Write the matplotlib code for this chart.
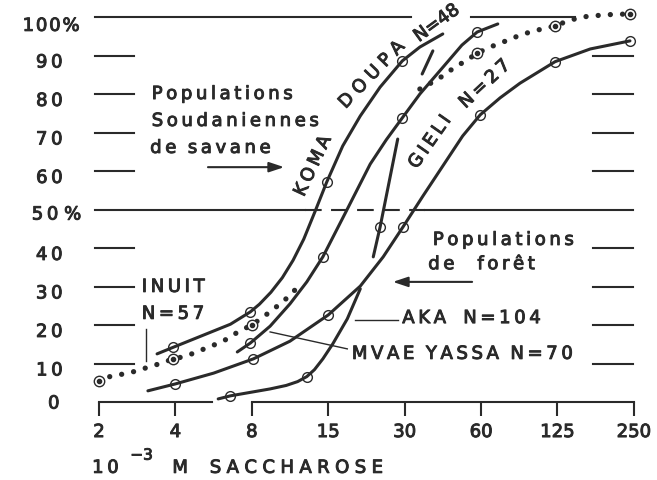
import numpy as np
import matplotlib.pyplot as plt
import matplotlib.patheffects as pe

# sucrose concentration (10^-3 M), one step per doubling on the x axis
conc_labels = ['2', '4', '8', '15', '30', '60', '125', '250']
conc_pos = np.arange(len(conc_labels))
pct_ticks = [0, 10, 20, 30, 40, 50, 60, 70, 80, 90, 100]

# KOMA DOUPA N=48 (curve, x in doubling steps from 2 mM)
koma_x = [0.76, 0.97, 1.47, 1.72, 1.98, 2.1, 2.25, 2.4, 2.54, 2.68, 2.83, 2.98, 3.19, 3.42, 3.68, 3.97, 4.2, 4.5]
koma_y = [12.5, 14.2, 18.2, 20.2, 23.4, 25.4, 28.5, 32.3, 36.8, 42.3, 49.6, 57.1, 66.5, 74.3, 81.8, 88.6, 92.2, 95.6]
koma_cx = [0.97, 1.98, 2.98, 3.97]
koma_cy = [14.2, 23.4, 57.1, 88.6]

# MVAE YASSA N=70
mvae_x = [1.81, 1.98, 2.24, 2.5, 2.72, 2.93, 3.25, 3.55, 3.76, 3.97, 4.2, 4.56, 4.75, 4.95, 5.22]
mvae_y = [13.0, 15.3, 19.7, 25.5, 31.2, 37.7, 50.1, 61.8, 68.1, 73.8, 80.0, 88.3, 92.7, 96.1, 98.2]
mvae_cx = [1.98, 2.93, 3.97, 4.95]
mvae_cy = [15.3, 37.7, 73.8, 96.1]

# GIELI N=27
gieli_x = [0.64, 1.0, 1.5, 2.02, 2.5, 3.0, 3.42, 3.72, 3.98, 4.24, 4.56, 4.76, 4.99, 5.25, 5.51, 5.97, 6.43, 6.95]
gieli_y = [2.9, 4.7, 7.5, 11.2, 15.8, 22.6, 30.1, 37.7, 45.5, 53.5, 63.1, 69.1, 74.6, 79.0, 82.8, 88.4, 91.7, 93.8]
gieli_cx = [1.0, 2.02, 3.0, 3.98, 4.99, 5.97, 6.95]
gieli_cy = [4.7, 11.2, 22.6, 45.5, 74.6, 88.4, 93.8]

# AKA N=104 (broken where it crosses the other curves)
aka_x = [1.56, 1.72, 2.24, 2.45, 2.6, 2.72, 2.82, 2.93, 3.06, 3.25, 3.42, np.nan,
         3.59, 3.68, 3.91, np.nan, 4.23, 4.37]
aka_y = [0.8, 1.6, 3.4, 4.3, 5.3, 6.6, 8.4, 11.2, 15.1, 21.6, 29.4, np.nan,
         37.7, 45.5, 68.3, np.nan, 85.2, 91.2]
aka_cx = [1.72, 2.72, 3.68]
aka_cy = [1.6, 6.6, 45.5]

# INUIT N=57 (dotted, hidden where it runs along the MVAE curve)
inuit_x = [-0.01, 0.17, 0.33, 0.5, 0.65, 0.82, 0.97, 1.14, 1.3, 1.47, 1.65, 1.82, 2.0,
           2.15, 2.29, 2.46, 2.59, np.nan,
           4.2, 4.37, 4.5, 4.66, 4.8, 4.95, 5.12, 5.29, 5.45, 5.64, 5.8, 5.97,
           6.14, 6.32, 6.47, 6.65, 6.79, 6.95]
inuit_y = [5.5, 6.8, 7.3, 8.1, 9.1, 10.1, 11.2, 11.9, 13.2, 14.5, 16.1, 18.2, 20.0,
           22.1, 24.2, 27.0, 29.6, np.nan,
           81.3, 83.1, 84.7, 87.0, 88.6, 90.6, 92.2, 93.5, 94.8, 96.1, 96.9, 97.7,
           99.0, 100.0, 100.3, 100.6, 100.7, 100.8]
inuit_cx = [0, 0.97, 2.0, 4.95, 5.97, 6.95]
inuit_cy = [5.5, 11.2, 20.0, 90.6, 97.7, 100.8]

ink = '#2a2a2a'
fs = 13
bold = [pe.withStroke(linewidth=0.7, foreground=ink)]


def spaced(s, gap='\u2009'):
    # the original lettering is widely spaced
    return gap.join(s)


def label(x, y, s, **kw):
    kw.setdefault('ha', 'left')
    kw.setdefault('va', 'center')
    kw.setdefault('fontsize', fs)
    ax.text(x, y, s, color=ink, path_effects=bold, **kw)


fig = plt.figure(figsize=(6.57, 4.81), dpi=100)
ax = fig.add_axes([0, 0, 1, 1])
ax.set_xlim(-1.296, 7.304)
ax.set_ylim(-20.26, 104.68)
ax.axis('off')

# guide lines at 100% and 50%
ax.plot([-0.05, 4.08], [100, 100], color=ink, lw=1.5)
ax.plot([4.87, 6.23], [100, 100], color=ink, lw=1.5)
ax.plot([-0.05, 2.7], [50, 50], color=ink, lw=1.5)
ax.plot([2.7, 4.27], [50, 50], color=ink, lw=1.5, ls=(0, (8, 4.5)))
ax.plot([4.27, 6.99], [50, 50], color=ink, lw=1.5)

# short dashes on both sides
for v in pct_ticks:
    if v in (0, 50, 100):
        continue
    ax.plot([-0.05, 0.46], [v, v], color=ink, lw=1.5)
    ax.plot([6.47, 6.99], [v, v], color=ink, lw=1.5)

# y labels
for v in pct_ticks:
    if v == 100:
        label(-1.0, v - 2.3, spaced('100%', '\u200a'))
    elif v == 50:
        label(-0.88, v - 1.3, spaced('50') + ' %')
    elif v == 0:
        label(-0.52, v - 0.4, '0', ha='right')
    else:
        label(-0.48, v - 1.8, spaced(str(v)), ha='right')

# x axis, broken where the AKA curve starts
ax.plot([0, 1.48], [0, 0], color=ink, lw=1.5)
ax.plot([2, 7], [0, 0], color=ink, lw=1.5)
ax.vlines(conc_pos, -3.6, 0, color=ink, lw=1.5)
for p, lab in zip(conc_pos, conc_labels):
    label(p, -7.8, lab, ha='center')

label(-0.09, -17.1, spaced('10'))
label(0.41, -13.8, '\u2212' + '3', fontsize=11)
label(0.96, -17.1, 'M')
label(1.45, -17.1, spaced('SACCHAROSE', '\u2009\u200a'))

# curves
for cx, cy in [(koma_x, koma_y), (mvae_x, mvae_y), (gieli_x, gieli_y), (aka_x, aka_y)]:
    ax.plot(cx, cy, color=ink, lw=2.2, solid_capstyle='round', solid_joinstyle='round')
for cx, cy in [(koma_cx, koma_cy), (mvae_cx, mvae_cy), (gieli_cx, gieli_cy), (aka_cx, aka_cy)]:
    ax.plot(cx, cy, 'o', ms=7, mfc='none', mec=ink, mew=1.0)

ax.plot(inuit_x, inuit_y, color=ink, lw=3.8, ls=(0, (0.01, 2.3)), dash_capstyle='round')
ax.plot(inuit_cx, inuit_cy, 'o', ms=7.5, mfc='white', mec=ink, mew=1.0)
ax.plot(inuit_cx, inuit_cy, 'o', ms=3, color=ink)

# group captions and arrows
label(0.69, 80.0, spaced('Populations'))
label(0.69, 73.0, spaced('Soudaniennes'))
label(0.67, 66.0, spaced('de') + '  ' + spaced('savane'))
ax.annotate('', xy=(2.46, 61.0), xytext=(1.39, 61.0),
            arrowprops=dict(arrowstyle='-|>,head_length=0.9,head_width=0.3', color=ink, lw=1.5))

label(4.37, 42.1, spaced('Populations'))
label(4.31, 35.8, spaced('de') + '    ' + spaced('forêt'))
ax.annotate('', xy=(3.81, 31.2), xytext=(4.92, 31.2),
            arrowprops=dict(arrowstyle='-|>,head_length=0.9,head_width=0.3', color=ink, lw=1.5))

# curve names
rot = dict(rotation_mode='anchor', ha='center')
label(2.80, 61.3, spaced('KOMA'), rotation=65, **rot)
label(3.57, 85.0, spaced('DOUPA', '\u2009\u200a'), rotation=46, **rot)
label(4.42, 98.4, 'N=48', rotation=36, **rot)
label(4.33, 67.5, spaced('GIELI'), rotation=55, **rot)
label(5.05, 82.6, spaced('N=27'), rotation=43, **rot)

label(0.56, 29.9, spaced('INUIT'))
label(0.56, 22.9, spaced('N=57'))
ax.plot([0.62, 0.62], [19.0, 10.6], color=ink, lw=1.0)

label(3.97, 21.8, spaced('AKA') + '   ' + spaced('N=104'))
ax.plot([3.35, 3.91], [21.3, 21.3], color=ink, lw=1.0)

label(3.31, 12.5, spaced('MVAE') + '  ' + spaced('YASSA') + '  ' + spaced('N=70'))
ax.plot([2.24, 3.25], [18.2, 13.8], color=ink, lw=1.0)

fig.savefig('out.png', dpi=100, facecolor='white')
